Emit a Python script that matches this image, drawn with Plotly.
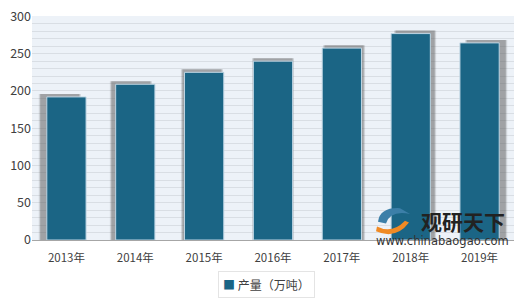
import plotly.graph_objects as go

categories = ["2013年", "2014年", "2015年", "2016年", "2017年", "2018年", "2019年"]
values = [192, 209, 225, 240, 257.5, 277, 264.5]
series_name = "产量（万吨）"
y_ticks = [0, 50, 100, 150, 200, 250, 300]

BAR = "#1B6585"
W = 0.57
n = len(categories)
# perspective shadow: shifts left for left bars, right for right bars
shift = [(i - (n - 1) / 2) * 0.032 for i in range(n)]

fig = go.Figure()
for extra, op in [(0.02, 0.2), (0.0, 0.4)]:
    fig.add_trace(go.Bar(
        x=categories, y=[v + 4 for v in values],
        width=[W + 2 * extra] * n,
        offset=[-W / 2 - extra + s for s in shift],
        marker=dict(color=f"rgba(90,90,90,{op})", line=dict(width=0)),
        showlegend=False, hoverinfo="skip"))
fig.add_trace(go.Bar(
    x=categories, y=values, name=series_name, width=W, showlegend=False,
    marker=dict(color=BAR, line=dict(color="#BFD6E4", width=1))))

fig.update_layout(
    width=520, height=300,
    margin=dict(l=32, r=6, t=8, b=60),
    paper_bgcolor="white", plot_bgcolor="#EDF2F8",
    barmode="overlay",
    font=dict(family="Noto Sans CJK SC, sans-serif", size=11, color="#404040"),
    showlegend=False,
    xaxis=dict(showgrid=False, showline=True, linecolor="#A6A6A6", linewidth=1,
               ticks="", range=[-0.5, 6.5], tickfont=dict(size=11.5),
               ticklabelstandoff=7),
    yaxis=dict(range=[0, 300.6], tickvals=y_ticks, showgrid=True, gridcolor="#D9DEE4",
               gridwidth=1, zeroline=False, showline=False, ticks="",
               ticklabeloverflow="allow",
               minor=dict(dtick=10, showgrid=True, gridcolor="#D9DEE4", gridwidth=1),
               tickfont=dict(size=12.5)),
)

def px(x):
    return (x - 32) / 482

def py(y):
    return (240 - y) / 232

# legend box
fig.add_annotation(xref="paper", yref="paper", x=px(266), y=py(286),
                   xanchor="center", yanchor="middle",
                   text=f"<span style='color:{BAR}'>■</span> {series_name}",
                   showarrow=False, bgcolor="white", bordercolor="#E4E4E4", borderwidth=1,
                   borderpad=4, font=dict(size=12, color="#404040"))

# watermark
fig.add_annotation(xref="paper", yref="paper", x=px(463), y=py(220),
                   xanchor="center", yanchor="middle",
                   text="<b>观研天下</b>", showarrow=False,
                   font=dict(size=21, color="#222222"))
fig.add_annotation(xref="paper", yref="paper", x=px(442), y=py(241),
                   xanchor="center", yanchor="middle",
                   text="www.chinabaogao.com", showarrow=False,
                   font=dict(family="DejaVu Sans", size=11.5, color="#333333"))
fig.add_shape(type="path", xref="paper", yref="paper",
              path=f"M {px(378)} {py(221)} Q {px(380)} {py(206)} {px(400)} {py(207)} "
                   f"L {px(410)} {py(213)} Q {px(390)} {py(209)} {px(386)} {py(223)} Z",
              fillcolor="#3C7FA8", line=dict(width=0))
fig.add_shape(type="path", xref="paper", yref="paper",
              path=f"M {px(377)} {py(226)} Q {px(392)} {py(234)} {px(405)} {py(220)} "
                   f"L {px(409)} {py(222)} Q {px(396)} {py(240)} {px(376)} {py(231)} Z",
              fillcolor="#F08A24", line=dict(width=0))

fig.write_html("out.html")
